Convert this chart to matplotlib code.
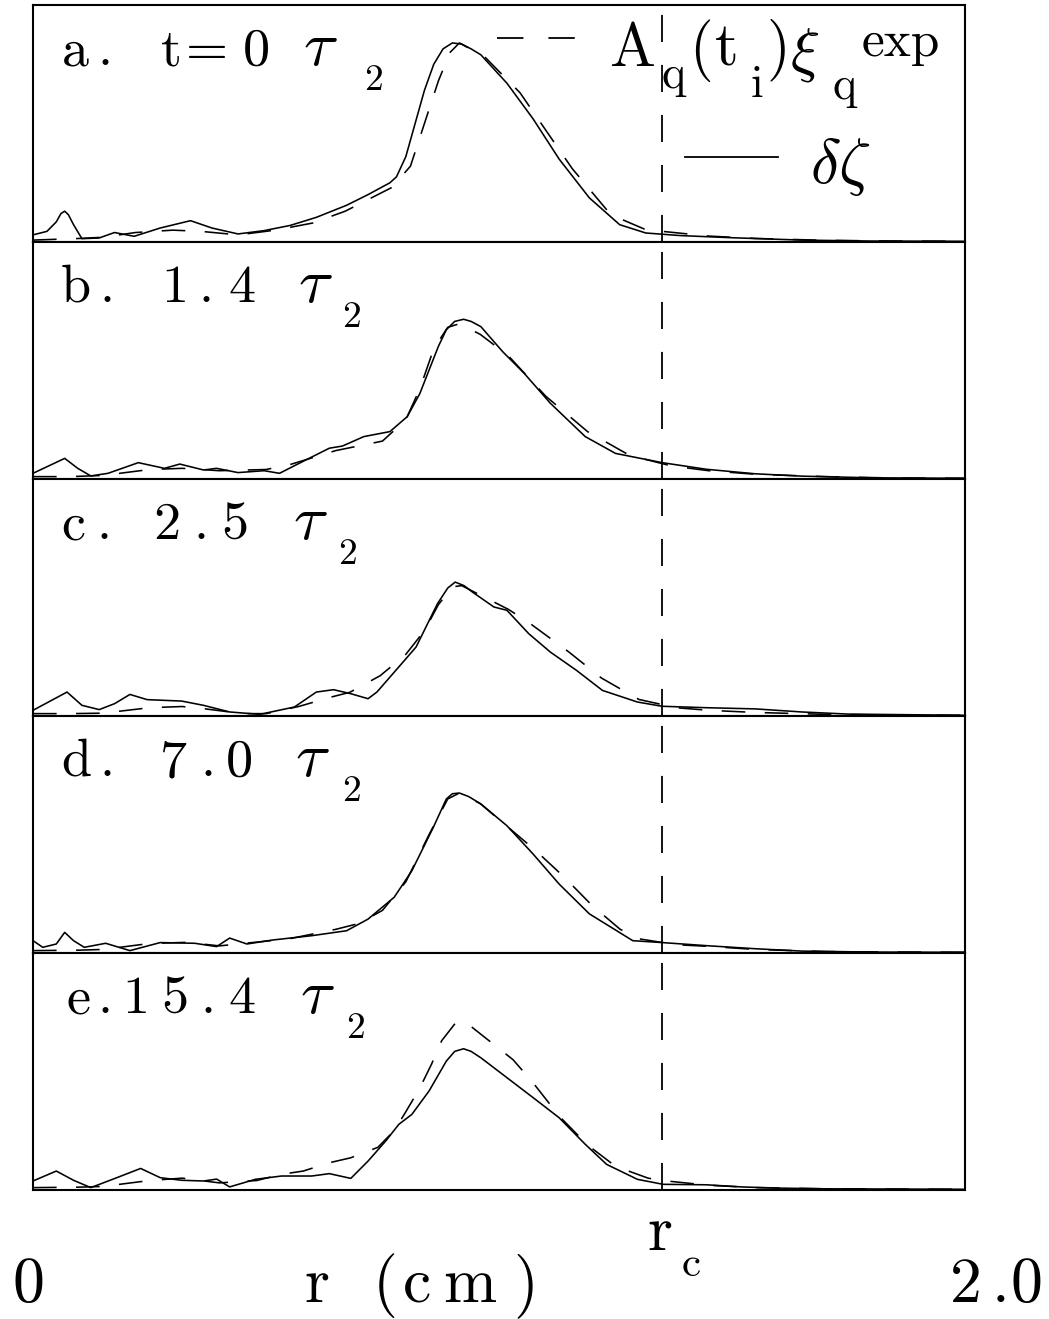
import matplotlib
matplotlib.use('Agg')
import matplotlib.pyplot as plt
from matplotlib.lines import Line2D

W, H = 1049, 1319
plt.rcParams['mathtext.fontset'] = 'cm'
plt.rcParams['font.family'] = ['cmr10', 'DejaVu Serif']
plt.rcParams['axes.formatter.use_mathtext'] = True
plt.rcParams['lines.scale_dashes'] = False

# ---------------- data (r in cm, amplitude in panel-height units) ----------------
r_c = 1.35
x_min, x_max = 0.0, 2.0

# panel a
ra_s = [0.0, 0.03, 0.05, 0.06, 0.068, 0.076, 0.087, 0.105, 0.142, 0.175, 0.217, 0.273, 0.338, 0.384,
        0.44, 0.496, 0.552, 0.608, 0.673, 0.719, 0.766, 0.78, 0.80, 0.82, 0.84, 0.86, 0.88, 0.90, 0.92,
        0.94, 0.961, 1.017, 1.073, 1.129, 1.194, 1.259, 1.315, 1.39, 1.50, 1.65, 1.80, 2.0]
va_s = [0.03, 0.045, 0.085, 0.12, 0.13, 0.115, 0.073, 0.014, 0.017, 0.04, 0.024, 0.059, 0.09, 0.059,
        0.034, 0.048, 0.07, 0.104, 0.155, 0.2, 0.25, 0.275, 0.36, 0.50, 0.64, 0.75, 0.815, 0.84, 0.835,
        0.815, 0.79, 0.67, 0.52, 0.35, 0.186, 0.073, 0.038, 0.027, 0.018, 0.008, 0.004, 0.003]
ra_d = [0.0, 0.1, 0.15, 0.22, 0.3, 0.36, 0.44, 0.52, 0.6, 0.67, 0.72, 0.77, 0.81, 0.84, 0.87, 0.895,
        0.915, 0.97, 1.045, 1.157, 1.24, 1.315, 1.35, 1.45, 1.55, 1.7, 1.85, 2.0]
va_d = [0.008, 0.015, 0.02, 0.04, 0.05, 0.045, 0.03, 0.05, 0.08, 0.13, 0.18, 0.23, 0.32, 0.5, 0.68, 0.8,
        0.84, 0.78, 0.63, 0.31, 0.115, 0.052, 0.045, 0.025, 0.015, 0.007, 0.004, 0.003]

# panel b
rb_s = [0.0, 0.068, 0.096, 0.124, 0.161, 0.226, 0.282, 0.315, 0.366, 0.394, 0.44, 0.496, 0.529, 0.571,
        0.636, 0.664, 0.71, 0.766, 0.803, 0.83, 0.85, 0.87, 0.887, 0.905, 0.924, 0.94, 0.961, 1.008, 1.054,
        1.11, 1.185, 1.25, 1.35, 1.445, 1.55, 1.65, 1.8, 2.0]
vb_s = [0.024, 0.087, 0.045, 0.013, 0.024, 0.069, 0.045, 0.063, 0.038, 0.045, 0.027, 0.035, 0.024, 0.066,
        0.13, 0.139, 0.179, 0.2, 0.263, 0.36, 0.46, 0.56, 0.63, 0.665, 0.674, 0.665, 0.643, 0.537, 0.446,
        0.32, 0.179, 0.108, 0.069, 0.041, 0.022, 0.012, 0.005, 0.003]
rb_d = [0.0, 0.08, 0.15, 0.25, 0.32, 0.4, 0.5, 0.55, 0.65, 0.75, 0.8, 0.83, 0.86, 0.89, 0.915, 0.96,
        1.02, 1.1, 1.19, 1.28, 1.37, 1.45, 1.55, 1.7, 1.85, 2.0]
vb_d = [0.01, 0.01, 0.015, 0.04, 0.045, 0.035, 0.04, 0.06, 0.12, 0.16, 0.25, 0.38, 0.55, 0.64, 0.655, 0.61,
        0.52, 0.35, 0.2, 0.1, 0.055, 0.035, 0.02, 0.01, 0.004, 0.003]

# panel c
rc_s = [0.0, 0.073, 0.105, 0.142, 0.175, 0.208, 0.245, 0.319, 0.366, 0.422, 0.487, 0.561, 0.608, 0.645,
        0.682, 0.719, 0.738, 0.785, 0.822, 0.868, 0.89, 0.906, 0.925, 0.943, 0.989, 1.017, 1.064, 1.11,
        1.166, 1.222, 1.297, 1.35, 1.445, 1.55, 1.65, 1.75, 2.0]
vc_s = [0.024, 0.101, 0.045, 0.027, 0.052, 0.091, 0.069, 0.063, 0.045, 0.017, 0.007, 0.038, 0.101, 0.111,
        0.094, 0.073, 0.101, 0.207, 0.291, 0.474, 0.54, 0.565, 0.55, 0.523, 0.46, 0.446, 0.347, 0.27,
        0.193, 0.108, 0.059, 0.041, 0.035, 0.03, 0.017, 0.008, 0.003]
rc_d = [0.0, 0.08, 0.15, 0.25, 0.32, 0.37, 0.45, 0.5, 0.57, 0.64, 0.68, 0.745, 0.8, 0.84, 0.87, 0.9,
        0.92, 0.97, 1.02, 1.06, 1.15, 1.22, 1.3, 1.38, 1.45, 1.55, 1.7, 1.85, 2.0]
vc_d = [0.01, 0.01, 0.012, 0.035, 0.04, 0.03, 0.01, 0.01, 0.04, 0.08, 0.1, 0.17, 0.26, 0.36, 0.47, 0.545,
        0.55, 0.5, 0.45, 0.4, 0.27, 0.16, 0.07, 0.035, 0.024, 0.015, 0.007, 0.004, 0.003]

# panel d
rd_s = [0.0, 0.021, 0.05, 0.068, 0.087, 0.11, 0.156, 0.208, 0.273, 0.347, 0.394, 0.422, 0.459, 0.515,
        0.598, 0.673, 0.719, 0.775, 0.813, 0.859, 0.887, 0.9, 0.915, 0.935, 0.961, 1.017, 1.073, 1.129,
        1.194, 1.241, 1.287, 1.35, 1.445, 1.55, 1.65, 1.8, 2.0]
vd_s = [0.052, 0.024, 0.038, 0.087, 0.052, 0.024, 0.041, 0.01, 0.044, 0.041, 0.027, 0.063, 0.038, 0.055,
        0.073, 0.094, 0.143, 0.235, 0.347, 0.53, 0.65, 0.672, 0.675, 0.66, 0.629, 0.537, 0.418, 0.291,
        0.165, 0.108, 0.052, 0.044, 0.031, 0.018, 0.008, 0.004, 0.003]
rd_d = [0.0, 0.1, 0.15, 0.25, 0.33, 0.4, 0.45, 0.55, 0.65, 0.7, 0.75, 0.8, 0.85, 0.89, 0.915, 0.96,
        1.02, 1.08, 1.14, 1.2, 1.26, 1.3, 1.38, 1.45, 1.55, 1.7, 1.85, 2.0]
vd_d = [0.01, 0.012, 0.015, 0.04, 0.045, 0.03, 0.04, 0.06, 0.1, 0.125, 0.18, 0.3, 0.5, 0.65, 0.675, 0.63,
        0.53, 0.43, 0.32, 0.2, 0.1, 0.06, 0.035, 0.028, 0.015, 0.006, 0.004, 0.003]

# panel e
re_s = [0.0, 0.05, 0.087, 0.124, 0.18, 0.231, 0.273, 0.319, 0.366, 0.394, 0.422, 0.477, 0.533, 0.598,
        0.636, 0.682, 0.719, 0.757, 0.785, 0.813, 0.85, 0.887, 0.905, 0.924, 0.94, 0.961, 1.017, 1.073,
        1.129, 1.185, 1.231, 1.297, 1.352, 1.445, 1.52, 1.6, 1.7, 2.0]
ve_s = [0.038, 0.08, 0.041, 0.01, 0.052, 0.091, 0.052, 0.041, 0.038, 0.046, 0.013, 0.045, 0.059, 0.059,
        0.069, 0.049, 0.122, 0.207, 0.277, 0.319, 0.418, 0.544, 0.585, 0.596, 0.585, 0.558, 0.474, 0.39,
        0.305, 0.193, 0.108, 0.045, 0.024, 0.022, 0.013, 0.008, 0.005, 0.003]
re_d = [0.0, 0.1, 0.15, 0.25, 0.32, 0.4, 0.48, 0.533, 0.58, 0.636, 0.682, 0.74, 0.775, 0.8, 0.83, 0.855,
        0.877, 0.91, 0.94, 0.985, 1.03, 1.07, 1.13, 1.19, 1.25, 1.32, 1.35, 1.45, 1.55, 1.7, 2.0]
ve_d = [0.01, 0.012, 0.015, 0.04, 0.05, 0.03, 0.04, 0.066, 0.08, 0.115, 0.136, 0.18, 0.25, 0.33, 0.43, 0.53,
        0.63, 0.713, 0.69, 0.62, 0.55, 0.46, 0.31, 0.19, 0.1, 0.05, 0.04, 0.02, 0.01, 0.005, 0.003]

panel_labels = ['a.', 'b.', 'c.', 'd.', 'e.']
panel_times = ['t=0', '1.4', '2.5', '7.0', '15.4']
solid_r = [ra_s, rb_s, rc_s, rd_s, re_s]
solid_v = [va_s, vb_s, vc_s, vd_s, ve_s]
dash_r = [ra_d, rb_d, rc_d, rd_d, re_d]
dash_v = [va_d, vb_d, vc_d, vd_d, ve_d]

# ---------------- layout ----------------
fig = plt.figure(figsize=(W / 100, H / 100), dpi=100)
left_px, right_px = 33, 965
tops = [5, 242, 479, 716, 953]
ph = 237

CURVE_DASH = (0, (17, 14))
RC_DASH = (0, (19.5, 16.5))


def ftext(x, y, s, size, ha='center', **kw):
    fig.text(x / W, 1 - y / H, s, fontsize=size, ha=ha, va='baseline', **kw)


def spaced(chars, xs, y, size):
    for ch, x in zip(chars, xs):
        ftext(x, y, ch, size)


for i, top in enumerate(tops):
    ax = fig.add_axes([left_px / W, 1 - (top + ph) / H, (right_px - left_px) / W, ph / H])
    ax.plot(solid_r[i], solid_v[i], color='black', lw=1.15, solid_joinstyle='round')
    ax.plot(dash_r[i], dash_v[i], color='black', lw=1.15, linestyle=CURVE_DASH)
    ax.axvline(r_c, color='black', lw=1.3, linestyle=RC_DASH)
    ax.set_xlim(x_min, x_max)
    ax.set_ylim(0, 1)
    ax.set_xticks([])
    ax.set_yticks([])
    for sp in ax.spines.values():
        sp.set_linewidth(1.5)
        sp.set_color('black')
    if i == 0:
        ax.add_line(Line2D([497, 575], [H - 38, H - 38], transform=None, color='black',
                           lw=1.3, linestyle=(0, (19, 18))))
        ax.add_line(Line2D([685, 778], [H - 157, H - 157], transform=None, color='black', lw=1.3))

# panel labels, character centres (px)
label_chars = [
    (['a', '.', 't', '=', '0'], [75, 105, 171, 207, 256]),
    (['b', '.', '1', '.', '4'], [76, 107, 175, 206, 242]),
    (['c', '.', '2', '.', '5'], [73, 104, 167, 201, 235]),
    (['d', '.', '7', '.', '0'], [76, 107, 174, 208, 239]),
    (['e', '.', '1', '5', '.', '4'], [78, 105, 136, 175, 208, 242]),
]
tau_c = [320, 315, 310, 312, 317]
sub_c = [373, 352, 348, 352, 356]
for i, top in enumerate(tops):
    base = top + 60
    chars, xs = label_chars[i]
    spaced(chars, xs, base, 39)
    ftext(tau_c[i], base, r'$\tau$', 46)
    ftext(sub_c[i], base + 25, '2', 27)

# legend text in panel a
ftext(633, 66, 'A', 44)
ftext(674, 88, 'q', 33)
ftext(701, 66, '(', 44)
ftext(727, 66, 't', 44)
ftext(757, 97, 'i', 33)
ftext(778, 66, ')', 44)
ftext(805, 70, r'$\xi$', 44)
ftext(845, 99, 'q', 33)
ftext(901, 56, 'exp', 37)
ftext(840, 183, r'$\delta\zeta$', 46)

# bottom axis annotations
ftext(28, 1302, '0', 46)
spaced(['2', '.', '0'], [966, 1000, 1026], 1302, 46)
ftext(317, 1302, 'r', 46)
spaced(['(', 'c', 'm', ')'], [385, 417, 470, 526], 1302, 46)
ftext(660, 1250, 'r', 46)
ftext(691, 1276, 'c', 31)

fig.savefig('out.png', dpi=100)
